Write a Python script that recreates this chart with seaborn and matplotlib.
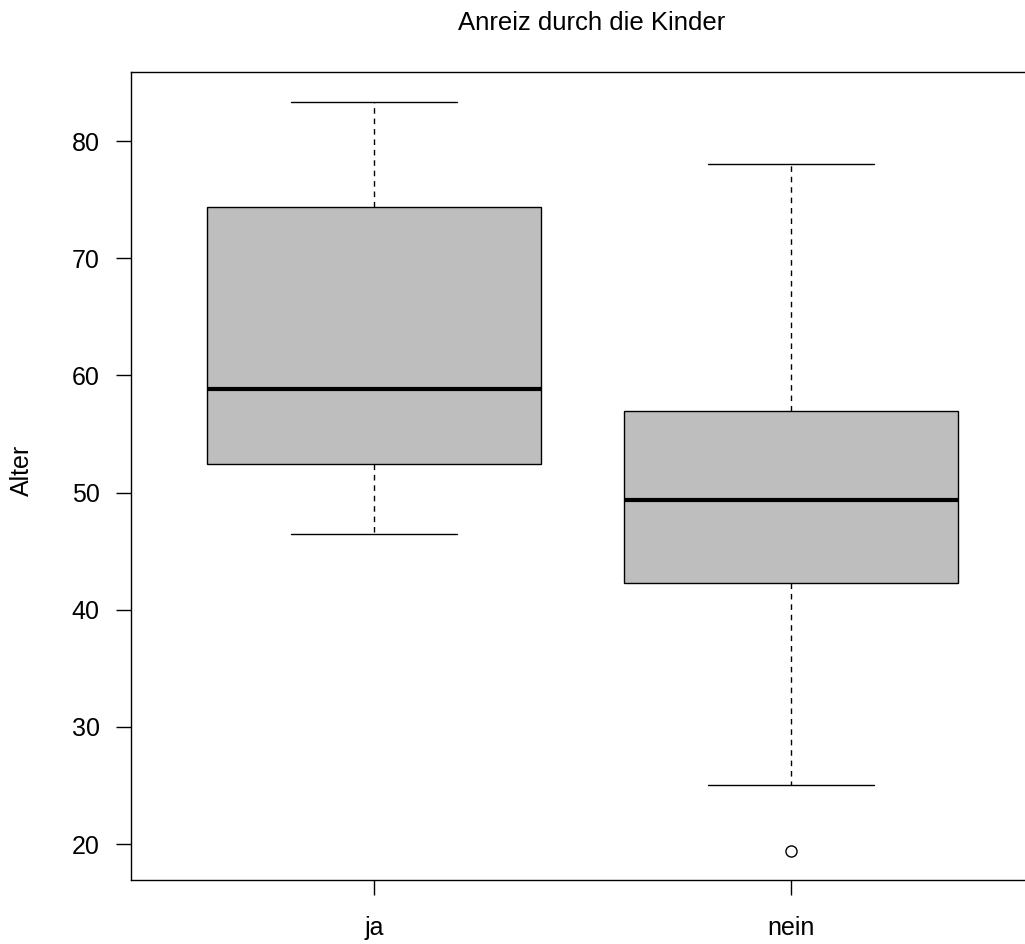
import numpy as np
import pandas as pd
import matplotlib
matplotlib.use("Agg")
import matplotlib.pyplot as plt
import seaborn as sns

# =========================================================
# DATA
# =========================================================
GROUPS = ["ja", "nein"]

# values per box give exactly the drawn quartiles/whiskers
alter_ja = [46.5, 52.4, 58.8, 74.4, 83.3]
alter_nein = [19.4, 25.0, 42.3, 45.0, 49.4, 53.0, 57.0, 65.0, 78.0]

Y_TICKS = [20, 30, 40, 50, 60, 70, 80]

df = pd.DataFrame({
    "Anreiz": ["ja"] * len(alter_ja) + ["nein"] * len(alter_nein),
    "Alter": alter_ja + alter_nein,
})

# =========================================================
# STYLE
# =========================================================
sns.set_style("ticks")
plt.rcParams["font.family"] = ["Liberation Sans", "DejaVu Sans"]

FS = 18
W, H = 1025, 944
fig = plt.figure(figsize=(W / 100, H / 100), dpi=100)

left_px, right_px, top_px, bottom_px = 131, 1050, 72, 880
ax = fig.add_axes([
    left_px / W,
    (H - bottom_px) / H,
    (right_px - left_px) / W,
    (bottom_px - top_px) / H,
])

# =========================================================
# BOXPLOT
# =========================================================
sns.boxplot(
    data=df,
    x="Anreiz",
    y="Alter",
    order=GROUPS,
    color="#BEBEBE",
    saturation=1,
    width=0.8,
    linecolor="black",
    linewidth=1.0,
    whiskerprops=dict(linestyle=(0, (4, 3.5))),
    medianprops=dict(linewidth=3.0),
    flierprops=dict(
        marker="o",
        markerfacecolor="none",
        markeredgecolor="black",
        markersize=8,
        markeredgewidth=1.0,
    ),
    ax=ax,
)

# =========================================================
# AXES
# =========================================================
ax.set_xlim(-0.583, 1.621)
ax.set_ylim(16.93, 85.89)
ax.set_yticks(Y_TICKS)

ax.set_xlabel("")
ax.set_ylabel("")

for side in ["left", "bottom", "top"]:
    ax.spines[side].set_visible(True)
    ax.spines[side].set_linewidth(1.0)
    ax.spines[side].set_color("black")
ax.spines["right"].set_visible(False)

ax.tick_params(axis="y", length=11, width=1.0, pad=11.5, labelsize=FS, colors="black")
ax.tick_params(axis="x", length=11, width=1.0, pad=15, labelsize=FS, colors="black")

fig.text(22 / W, 1 - 470 / H, "Alter", rotation=90, ha="center", va="center",
         fontsize=FS, color="black")
fig.text(591.5 / W, 1 - 29.5 / H, "Anreiz durch die Kinder", ha="center", va="baseline",
         fontsize=18.5, color="black")

plt.savefig("out.png", dpi=100)
